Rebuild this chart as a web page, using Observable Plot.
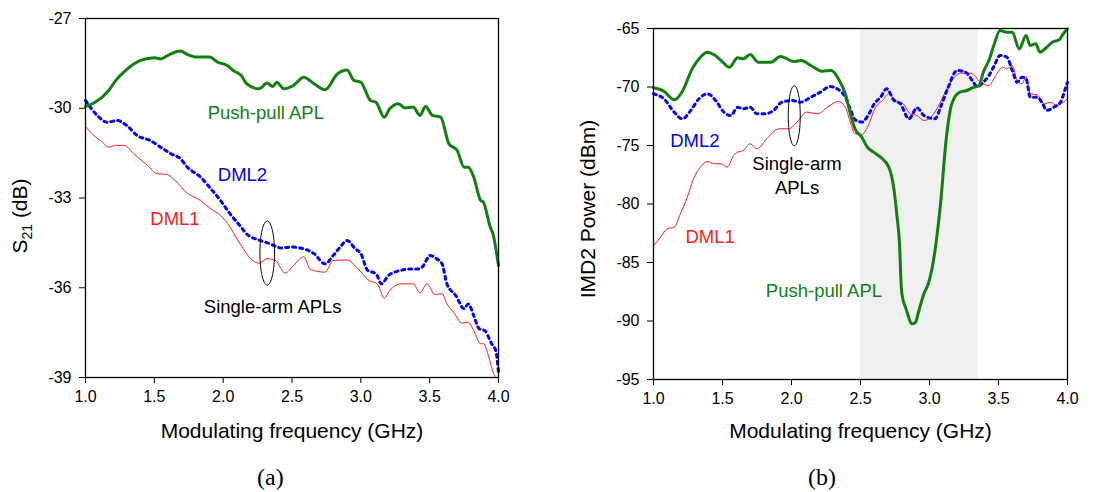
<!DOCTYPE html>
<html>
<head>
<meta charset="utf-8">
<script src="https://cdn.jsdelivr.net/npm/d3@7"></script>
<script src="https://cdn.jsdelivr.net/npm/@observablehq/plot@0.6"></script>
<style>
  html, body { margin: 0; padding: 0; background: white; }
  #wrap { display: flex; width: 1107px; }
  .panel { display: block; }
  .panel svg { display: block; }
  .cap { height: 42px; line-height: 54px; font-family: "Liberation Serif", "Times New Roman", serif; font-size: 24px; color: black; }
</style>
</head>
<body>
<div id="wrap">
  <div class="panel" id="pa"></div>
  <div class="panel" id="pb"></div>
</div>
<script>
// ---------- shared ----------
const xTicks = [1.0, 1.5, 2.0, 2.5, 3.0, 3.5, 4.0];
const xLabel = "Modulating frequency (GHz)";

// ---------- panel (a): S21 ----------
const aYTicks = [-27, -30, -33, -36, -39];
const aPushF = [1.0,1.07,1.17,1.22,1.29,1.40,1.50,1.545,1.62,1.69,1.74,1.81,1.90,1.96,2.03,2.08,2.13,2.17,2.26,2.32,2.36,2.39,2.44,2.51,2.585,2.66,2.74,2.83,2.90,2.95,3.0,3.07,3.11,3.17,3.21,3.275,3.32,3.38,3.43,3.47,3.52,3.58,3.64,3.70,3.75,3.78,3.82,3.87,3.89,3.94,3.96,4.0];
const aPushV = [-29.94,-29.8,-29.4,-29.07,-28.74,-28.40,-28.31,-28.35,-28.18,-28.09,-28.2,-28.29,-28.29,-28.46,-28.57,-28.76,-28.9,-29.18,-29.35,-29.16,-29.27,-29.13,-29.35,-29.24,-28.96,-29.18,-29.38,-28.85,-28.72,-29.07,-29.13,-29.74,-29.8,-30.3,-30.02,-29.85,-29.99,-29.96,-30.24,-29.94,-30.24,-30.3,-31.19,-31.41,-31.97,-31.97,-32.3,-33.08,-33.14,-33.97,-34.2,-35.26];
const aDml2F = [1.0,1.085,1.16,1.23,1.30,1.375,1.47,1.545,1.62,1.69,1.74,1.835,1.91,1.98,2.05,2.13,2.17,2.27,2.34,2.42,2.49,2.585,2.66,2.74,2.80,2.85,2.90,2.96,3.0,3.05,3.11,3.15,3.20,3.29,3.36,3.42,3.445,3.505,3.55,3.59,3.625,3.69,3.75,3.78,3.82,3.86,3.90,3.95,3.98,4.0];
const aDml2V = [-29.74,-30.24,-30.47,-30.41,-30.58,-30.91,-31.08,-31.3,-31.52,-31.69,-31.97,-32.3,-32.69,-33.08,-33.53,-33.97,-34.2,-34.42,-34.53,-34.67,-34.64,-34.7,-34.86,-35.2,-34.92,-34.64,-34.42,-34.7,-34.86,-35.42,-35.53,-35.87,-35.59,-35.42,-35.37,-35.37,-35.31,-34.92,-35.03,-35.2,-35.87,-36.26,-36.7,-36.54,-36.93,-37.37,-37.43,-37.87,-38.1,-38.82];
const aDml1F = [1.0,1.06,1.11,1.17,1.22,1.28,1.35,1.45,1.52,1.59,1.65,1.74,1.835,1.91,1.98,2.05,2.10,2.15,2.19,2.26,2.32,2.38,2.45,2.51,2.585,2.63,2.68,2.74,2.80,2.90,2.98,3.06,3.12,3.17,3.21,3.29,3.38,3.43,3.48,3.54,3.59,3.625,3.675,3.735,3.78,3.82,3.87,3.89,3.93,3.96,3.98];
const aDml1V = [-30.61,-30.91,-31.08,-31.3,-31.24,-31.24,-31.52,-31.91,-32.19,-32.21,-32.41,-32.84,-33.08,-33.36,-33.58,-33.97,-34.36,-34.72,-34.98,-35.18,-35.03,-35.09,-35.51,-35.26,-34.96,-35.37,-35.45,-35.48,-35.09,-35.07,-35.37,-35.76,-35.87,-36.34,-36.09,-35.87,-35.87,-36.17,-35.87,-36.23,-36.2,-36.54,-36.82,-37.18,-37.15,-37.43,-37.87,-37.87,-38.32,-38.82,-39.0];
const aLabels = ["Push-pull APL", "DML2", "DML1", "Single-arm APLs"];
const aLabelF = [2.31, 2.14, 1.65, 2.36];
const aLabelV = [-30.1, -32.17, -33.64, -36.6];
const aEllipseF = [2.32];
const aEllipseV = [-34.84];

// ---------- panel (b): IMD2 ----------
const bYTicks = [-65, -70, -75, -80, -85, -90, -95];
const bShade = [2.5, 3.35];
const bPushF = [1.0,1.075,1.15,1.21,1.28,1.34,1.39,1.44,1.49,1.55,1.61,1.65,1.70,1.76,1.85,1.92,2.02,2.07,2.14,2.22,2.29,2.34,2.39,2.43,2.46,2.51,2.55,2.595,2.645,2.705,2.74,2.765,2.785,2.79,2.80,2.83,2.875,2.90,2.92,2.96,2.995,3.02,3.04,3.05,3.08,3.12,3.15,3.19,3.22,3.27,3.31,3.36,3.39,3.43,3.47,3.51,3.56,3.60,3.65,3.70,3.73,3.77,3.80,3.85,3.89,3.94,3.97,4.0];
const bPushV = [-70.07,-70.36,-71.1,-70.36,-68.45,-67.45,-67.02,-67.25,-67.74,-68.31,-67.5,-67.59,-67.22,-67.88,-67.88,-67.39,-67.82,-67.74,-68.16,-68.65,-68.59,-69.3,-70.58,-72.44,-73.57,-74.29,-75.15,-75.57,-76.0,-76.85,-78.56,-81.13,-83.97,-85.68,-87.68,-88.96,-90.24,-90.1,-89.25,-87.68,-86.68,-85.4,-83.97,-83.1,-79.98,-74.57,-72.0,-70.73,-70.44,-70.3,-70.07,-69.87,-68.73,-67.74,-66.31,-65.17,-65.32,-65.32,-66.74,-65.6,-66.45,-66.31,-67.02,-66.6,-66.17,-65.97,-65.45,-65.03];
const bDml2F = [1.0,1.075,1.15,1.21,1.27,1.33,1.39,1.45,1.51,1.56,1.61,1.65,1.70,1.75,1.81,1.87,1.93,2.005,2.065,2.14,2.21,2.28,2.33,2.39,2.43,2.46,2.51,2.55,2.60,2.645,2.69,2.74,2.79,2.85,2.91,2.96,3.04,3.08,3.13,3.20,3.26,3.31,3.345,3.39,3.43,3.47,3.51,3.56,3.60,3.635,3.67,3.70,3.73,3.78,3.82,3.85,3.90,3.95,3.98,4.0];
const bDml2V = [-70.58,-71.0,-72.15,-72.72,-72.0,-71.0,-70.58,-71.15,-72.15,-72.44,-71.73,-71.86,-71.73,-72.29,-72.29,-72.0,-71.3,-71.15,-71.3,-70.87,-70.44,-69.96,-70.15,-70.87,-72.0,-72.8,-73.0,-72.52,-71.44,-70.87,-70.15,-71.1,-71.44,-72.72,-71.78,-72.44,-72.72,-71.73,-70.19,-68.59,-68.73,-69.44,-69.96,-69.59,-69.02,-68.16,-67.31,-67.45,-68.59,-69.59,-69.16,-69.3,-70.87,-70.87,-71.44,-72.0,-71.73,-71.3,-70.3,-69.59];
const bDml1F = [1.0,1.05,1.10,1.15,1.195,1.245,1.29,1.34,1.39,1.44,1.49,1.535,1.58,1.61,1.65,1.70,1.75,1.82,1.91,1.98,2.04,2.11,2.19,2.26,2.34,2.39,2.43,2.46,2.51,2.55,2.61,2.66,2.705,2.75,2.81,2.86,2.91,2.96,3.01,3.06,3.12,3.18,3.225,3.30,3.37,3.43,3.48,3.53,3.56,3.60,3.635,3.67,3.70,3.73,3.78,3.83,3.88,3.92,3.97,4.0];
const bDml1V = [-83.6,-82.84,-82.12,-81.98,-80.84,-79.42,-77.85,-76.85,-76.37,-76.56,-76.56,-76.85,-75.85,-75.57,-75.43,-74.85,-75.28,-74.43,-73.57,-73.57,-73.0,-72.15,-72.29,-71.73,-71.24,-71.73,-73.15,-74.0,-74.06,-73.44,-71.73,-71.15,-70.58,-71.15,-71.44,-72.29,-72.44,-72.86,-72.58,-71.73,-70.3,-69.16,-68.82,-68.82,-69.59,-69.87,-69.02,-68.31,-68.45,-68.16,-69.44,-69.73,-69.1,-70.58,-70.67,-71.44,-71.3,-71.58,-71.3,-71.0];
const bLabels = ["DML2", "Single-arm\nAPLs", "DML1", "Push-pull APL"];
const bLabelF = [1.30, 2.04, 1.41, 2.235];
const bLabelV = [-74.5, -77.5, -82.7, -87.33];
const bEllipseF = [2.02];
const bEllipseV = [-72.46];

// ---------- styles ----------
const GREEN = "#118011", BLUE = "#0000ff", RED = "#ff1a1a";
const FONT = "'Liberation Sans', Arial, sans-serif";
const aLabelColors = [GREEN, BLUE, RED, "black"];
const bLabelColors = [BLUE, "black", RED, GREEN];

function ellipseSymbol(rx, ry) {
  const k = 0.5522847498;
  return {
    draw(ctx) {
      ctx.moveTo(rx, 0);
      ctx.bezierCurveTo(rx, ry * k, rx * k, ry, 0, ry);
      ctx.bezierCurveTo(-rx * k, ry, -rx, ry * k, -rx, 0);
      ctx.bezierCurveTo(-rx, -ry * k, -rx * k, -ry, 0, -ry);
      ctx.bezierCurveTo(rx * k, -ry, rx, -ry * k, rx, 0);
      ctx.closePath();
    }
  };
}

function zip(f, v) { return f.map((x, i) => ({x, y: v[i]})); }

function series(f, v, opts) {
  return Plot.line(zip(f, v), {x: "x", y: "y", curve: "monotone-x", ...opts});
}

function panel({yDomain, yTicks, marginLeft, marginRight, marginTop, marginBottom, width, lines, labels, lf, lv, lc, ef, ev, erx, ery, shade, xLabelDy, yLabelText, yLabelDx, yLabelDy}) {
  const labelData = labels.map((t, i) => ({t, x: lf[i], y: lv[i], c: lc[i]}));
  const marks = [];
  if (shade) marks.push(Plot.rect([{x1: shade[0], x2: shade[1]}], {x1: "x1", x2: "x2", fill: "#f0f0f0"}));
  marks.push(...lines);
  marks.push(Plot.dot(ef.map((x, i) => ({x, y: ev[i]})), {x: "x", y: "y", r: 5, symbol: ellipseSymbol(erx, ery), stroke: "black", strokeWidth: 1, fill: "none"}));
  marks.push(Plot.text(labelData, {x: "x", y: "y", text: "t", fill: "c", fontSize: 18.5, lineHeight: 1.3}));
  marks.push(Plot.frame({stroke: "black", strokeWidth: 1.3}));
  marks.push(Plot.axisX({ticks: xTicks, tickFormat: d3.format(".1f"), tickSize: 6, tickPadding: 7, label: null, fontSize: 16}));
  marks.push(Plot.axisY({ticks: yTicks, tickFormat: d => String(d).replace("\u2212", "-"), tickSize: 6, tickPadding: 8, label: null, fontSize: 16}));
  marks.push(Plot.text([xLabel], {frameAnchor: "bottom", dy: xLabelDy, fontSize: 21}));
  if (yLabelText) marks.push(Plot.text([yLabelText], {frameAnchor: "left", textAnchor: "middle", dx: yLabelDx, dy: yLabelDy, rotate: -90, fontSize: 21}));
  return Plot.plot({
    width, height: 450, marginLeft, marginRight, marginTop, marginBottom,
    style: {fontFamily: FONT, fontSize: "16px", background: "white", color: "black"},
    x: {domain: [1, 4]},
    y: {domain: yDomain},
    marks
  });
}

function caption(el, text, left) {
  const d = document.createElement("div");
  d.className = "cap";
  d.style.paddingLeft = left + "px";
  d.textContent = text;
  el.appendChild(d);
}

const svgA = panel({
  width: 553, marginLeft: 85, marginRight: 55, marginTop: 18, marginBottom: 73,
  yDomain: [-39, -27], yTicks: aYTicks, xLabelDy: 60,
  lines: [
    series(aDml1F, aDml1V, {stroke: RED, strokeWidth: 1}),
    series(aDml2F, aDml2V, {stroke: BLUE, strokeWidth: 3, strokeDasharray: "3,4"}),
    series(aPushF, aPushV, {stroke: GREEN, strokeWidth: 3})
  ],
  labels: aLabels, lf: aLabelF, lv: aLabelV, lc: aLabelColors,
  ef: aEllipseF, ev: aEllipseV, erx: 7.3, ery: 32
});
// y label with subscript
const ya = d3.select(svgA).append("text")
  .attr("transform", "translate(27,216) rotate(-90)")
  .attr("text-anchor", "middle")
  .attr("font-family", FONT).attr("font-size", 21).attr("fill", "black");
ya.append("tspan").text("S");
ya.append("tspan").attr("font-size", 14).attr("dy", 5).text("21");
ya.append("tspan").attr("dy", -5).text("\u00a0(dB)");
const pa = document.getElementById("pa");
pa.appendChild(svgA);
caption(pa, "(a)", 257);

const svgB = panel({
  width: 554, marginLeft: 100, marginRight: 40, marginTop: 28, marginBottom: 71,
  yDomain: [-95, -65], yTicks: bYTicks, shade: bShade, xLabelDy: 58,
  lines: [
    series(bDml1F, bDml1V, {stroke: RED, strokeWidth: 1}),
    series(bDml2F, bDml2V, {stroke: BLUE, strokeWidth: 3, strokeDasharray: "3,4"}),
    series(bPushF, bPushV, {stroke: GREEN, strokeWidth: 3})
  ],
  labels: bLabels, lf: bLabelF, lv: bLabelV, lc: bLabelColors,
  ef: bEllipseF, ev: bEllipseV, erx: 6, ery: 30,
  yLabelText: "IMD2 Power (dBm)", yLabelDx: -65, yLabelDy: 5
});
const pb = document.getElementById("pb");
pb.appendChild(svgB);
caption(pb, "(b)", 255);
</script>
</body>
</html>
